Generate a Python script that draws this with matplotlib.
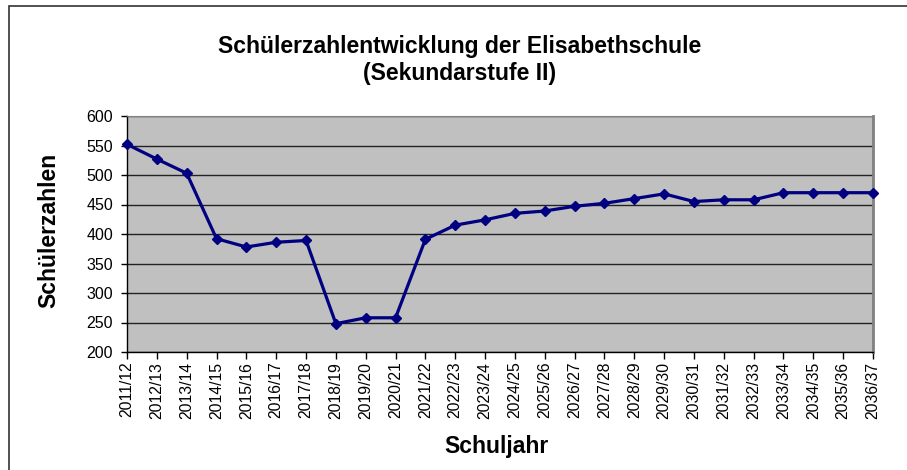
#!/usr/bin/env python3
"""Schülerzahlentwicklung der Elisabethschule (Sekundarstufe II) - line chart."""
import matplotlib
matplotlib.use("Agg")
import matplotlib.pyplot as plt
from matplotlib.patches import Rectangle

plt.rcParams["font.family"] = ["Liberation Sans", "DejaVu Sans"]

# ---- data ---------------------------------------------------------------
SCHOOL_YEARS = [
    "2011/12", "2012/13", "2013/14", "2014/15", "2015/16", "2016/17",
    "2017/18", "2018/19", "2019/20", "2020/21", "2021/22", "2022/23",
    "2023/24", "2024/25", "2025/26", "2026/27", "2027/28", "2028/29",
    "2029/30", "2030/31", "2031/32", "2032/33", "2033/34", "2034/35",
    "2035/36", "2036/37",
]
STUDENTS = [
    552, 527, 503, 392, 378, 386,
    389, 248, 258, 258, 391, 415,
    424, 435, 439, 447, 452, 460,
    468, 455, 458, 458, 470, 470,
    470, 470,
]
Y_TICKS = list(range(200, 601, 50))

W, H = 907, 470
fig = plt.figure(figsize=(W / 100, H / 100), dpi=100)
fig.patch.set_facecolor("white")

# outer chart frame (runs off the right and bottom edges)
fig.add_artist(Rectangle((9 / W, -0.05), 1.1, (H - 6) / H + 0.05,
                         transform=fig.transFigure, fill=False,
                         edgecolor="#333333", linewidth=1.2))

ax = fig.add_axes([127 / W, 1 - 352 / H, (873 - 127) / W, (352 - 116) / H])
ax.set_facecolor("#c0c0c0")

x = list(range(len(SCHOOL_YEARS)))
ax.plot(x, STUDENTS, color="#000080", linewidth=2.3, marker="D",
        markersize=5.5, clip_on=False, zorder=3)

ax.set_xlim(0, len(SCHOOL_YEARS) - 1)
ax.set_ylim(200, 600)
ax.set_yticks(Y_TICKS)
ax.set_xticks(x)
ax.set_xticklabels(SCHOOL_YEARS, rotation=90, fontsize=11.3)
ax.tick_params(axis="y", labelsize=11.5, length=4, width=1, pad=6)
ax.tick_params(axis="x", length=5, width=1, pad=2)
ax.grid(axis="y", color="#222222", linewidth=1)
ax.set_axisbelow(True)

for side in ("left", "bottom"):
    ax.spines[side].set_color("black")
    ax.spines[side].set_linewidth(1)
ax.spines["top"].set_color("#808080")
ax.spines["right"].set_color("#808080")
ax.spines["right"].set_linewidth(2)

fig.text(460 / W, 1 - 53 / H, "Schülerzahlentwicklung der Elisabethschule",
         ha="center", va="baseline", fontsize=16.5, fontweight="bold")
fig.text(460 / W, 1 - 80 / H, "(Sekundarstufe II)",
         ha="center", va="baseline", fontsize=16.5, fontweight="bold")
fig.text(49 / W, 1 - 230 / H, "Schülerzahlen", rotation=90,
         ha="center", va="center", fontsize=16.5, fontweight="bold")
fig.text(496 / W, 1 - 447 / H, "Schuljahr",
         ha="center", va="center", fontsize=16.5, fontweight="bold")

fig.savefig("out.png", dpi=100)
